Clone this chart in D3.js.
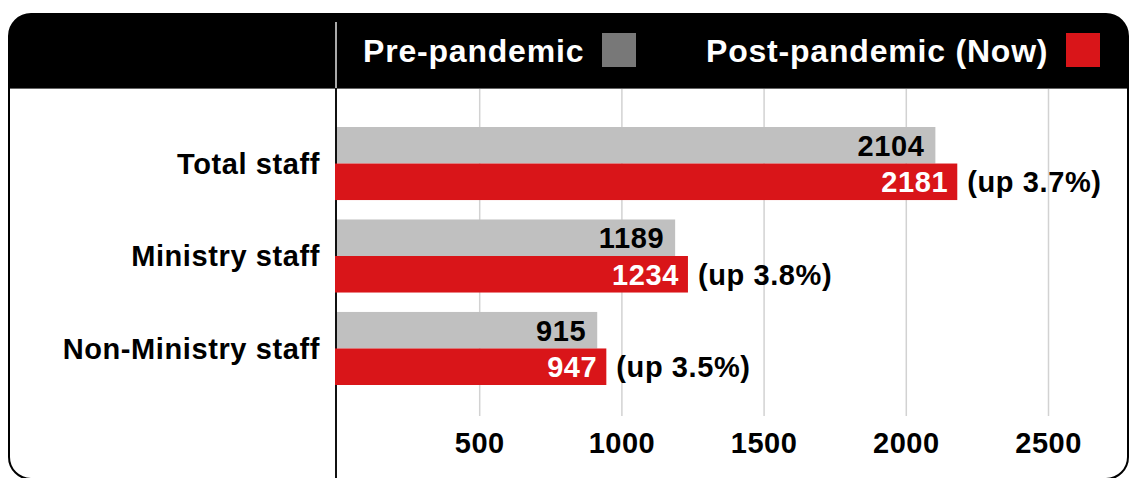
<!DOCTYPE html>
<html>
<head>
<meta charset="utf-8">
<script src="https://cdn.jsdelivr.net/npm/d3@7"></script>
<style>
  body { margin: 0; background: #fff; }
  svg { display: block; font-family: "Liberation Sans", Arial, Helvetica, sans-serif; }
</style>
</head>
<body>
<svg width="1129" height="478"></svg>
<script>
// chart values
var categories = ["Total staff", "Ministry staff", "Non-Ministry staff"];
var preValues = [2104, 1189, 915];
var postValues = [2181, 1234, 947];
var changeLabels = ["(up 3.7%)", "(up 3.8%)", "(up 3.5%)"];
var tickValues = [500, 1000, 1500, 2000, 2500];
var seriesNames = ["Pre-pandemic", "Post-pandemic (Now)"];

var colors = { pre: "#c0c0c0", preKey: "#787878", post: "#d91519" };

var svg = d3.select("svg");

// frame + black header
var defs = svg.append("defs");
defs.append("clipPath").attr("id", "frameclip")
  .append("rect")
    .attr("x", 9).attr("y", 14)
    .attr("width", 1119).attr("height", 465)
    .attr("rx", 22);

svg.append("rect")
  .attr("x", 9).attr("y", 14)
  .attr("width", 1119).attr("height", 465)
  .attr("rx", 22)
  .attr("fill", "#fff");

svg.append("rect")
  .attr("clip-path", "url(#frameclip)")
  .attr("x", 0).attr("y", 0)
  .attr("width", 1129).attr("height", 88)
  .attr("fill", "#000");

svg.append("line")
  .attr("x1", 9).attr("x2", 1128)
  .attr("y1", 88.5).attr("y2", 88.5)
  .attr("stroke", "#666").attr("stroke-width", 1);

// scales
var x = d3.scaleLinear().domain([0, 2500]).range([337, 1048]);

var y = d3.scaleBand()
  .domain(categories)
  .range([127, 385])
  .paddingInner(0.21)
  .paddingOuter(0);

var sub = d3.scaleBand()
  .domain(["pre", "post"])
  .range([0, y.bandwidth()]);

// grid lines + tick labels
var axis = svg.append("g")
  .attr("class", "axis")
  .attr("transform", "translate(0,416)")
  .call(d3.axisBottom(x)
    .tickValues(tickValues)
    .tickFormat(d3.format("d"))
    .tickSize(-(416 - 89))
    .tickPadding(16));

axis.select(".domain").remove();
axis.selectAll(".tick line")
  .attr("stroke", "#d2d2d2")
  .attr("stroke-width", 1.5);
axis.selectAll(".tick text")
  .attr("fill", "#000")
  .style("font-size", "29px")
  .style("font-weight", "bold")
  .style("letter-spacing", "0.5px")
  .style("font-family", "'Liberation Sans', Arial, sans-serif");

// vertical zero line
svg.append("line")
  .attr("x1", 336).attr("x2", 336)
  .attr("y1", 22).attr("y2", 88)
  .attr("stroke", "#aaa").attr("stroke-width", 2);
svg.append("line")
  .attr("x1", 336).attr("x2", 336)
  .attr("y1", 88).attr("y2", 478)
  .attr("stroke", "#111").attr("stroke-width", 2);

// bars
var rows = categories.map(function(c, i) {
  return { cat: c, pre: preValues[i], post: postValues[i], change: changeLabels[i] };
});

var group = svg.selectAll(".grp")
  .data(rows)
  .enter().append("g")
    .attr("class", "grp")
    .attr("transform", function(d) { return "translate(0," + y(d.cat) + ")"; });

group.append("rect")
  .attr("x", x(0))
  .attr("y", sub("pre"))
  .attr("width", function(d) { return x(d.pre) - x(0); })
  .attr("height", sub.bandwidth())
  .attr("fill", colors.pre);

group.append("rect")
  .attr("x", x(0) - 2)
  .attr("y", sub("post"))
  .attr("width", function(d) { return x(d.post) - x(0) + 2; })
  .attr("height", sub.bandwidth())
  .attr("fill", colors.post);

var txt = function(sel) {
  return sel.style("font-size", "29px").style("font-weight", "bold")
    .style("letter-spacing", "0.6px").attr("dy", "0.36em");
};

group.append("text")
  .call(txt)
  .attr("x", function(d) { return x(d.pre) - 11; })
  .attr("y", sub("pre") + sub.bandwidth() / 2)
  .attr("text-anchor", "end")
  .attr("fill", "#000")
  .text(function(d) { return d.pre; });

group.append("text")
  .call(txt)
  .attr("x", function(d) { return x(d.post) - 9; })
  .attr("y", sub("post") + sub.bandwidth() / 2)
  .attr("text-anchor", "end")
  .attr("fill", "#fff")
  .text(function(d) { return d.post; });

group.append("text")
  .call(txt)
  .attr("x", function(d) { return x(d.post) + 10; })
  .attr("y", sub("post") + sub.bandwidth() / 2)
  .attr("fill", "#000")
  .text(function(d) { return d.change; });

// category labels
group.append("text")
  .call(txt)
  .attr("x", 320)
  .attr("y", y.bandwidth() / 2)
  .attr("text-anchor", "end")
  .attr("fill", "#000")
  .text(function(d) { return d.cat; });

// legend in header
var legend = [
  { name: seriesNames[0], color: colors.preKey, tx: 363, sx: 602 },
  { name: seriesNames[1], color: colors.post, tx: 706, sx: 1066 }
];

var lg = svg.selectAll(".legend")
  .data(legend)
  .enter().append("g")
    .attr("class", "legend");

lg.append("text")
  .attr("x", function(d) { return d.tx; })
  .attr("y", 50)
  .attr("dy", "0.36em")
  .attr("fill", "#fff")
  .style("font-size", "32px")
  .style("font-weight", "bold")
  .style("letter-spacing", "0.8px")
  .text(function(d) { return d.name; });

lg.append("rect")
  .attr("x", function(d) { return d.sx; })
  .attr("y", 33)
  .attr("width", 34).attr("height", 34)
  .attr("fill", function(d) { return d.color; });

// frame border on top
svg.append("rect")
  .attr("x", 9).attr("y", 14)
  .attr("width", 1119).attr("height", 465)
  .attr("rx", 22)
  .attr("fill", "none")
  .attr("stroke", "#000")
  .attr("stroke-width", 2);
</script>
</body>
</html>
